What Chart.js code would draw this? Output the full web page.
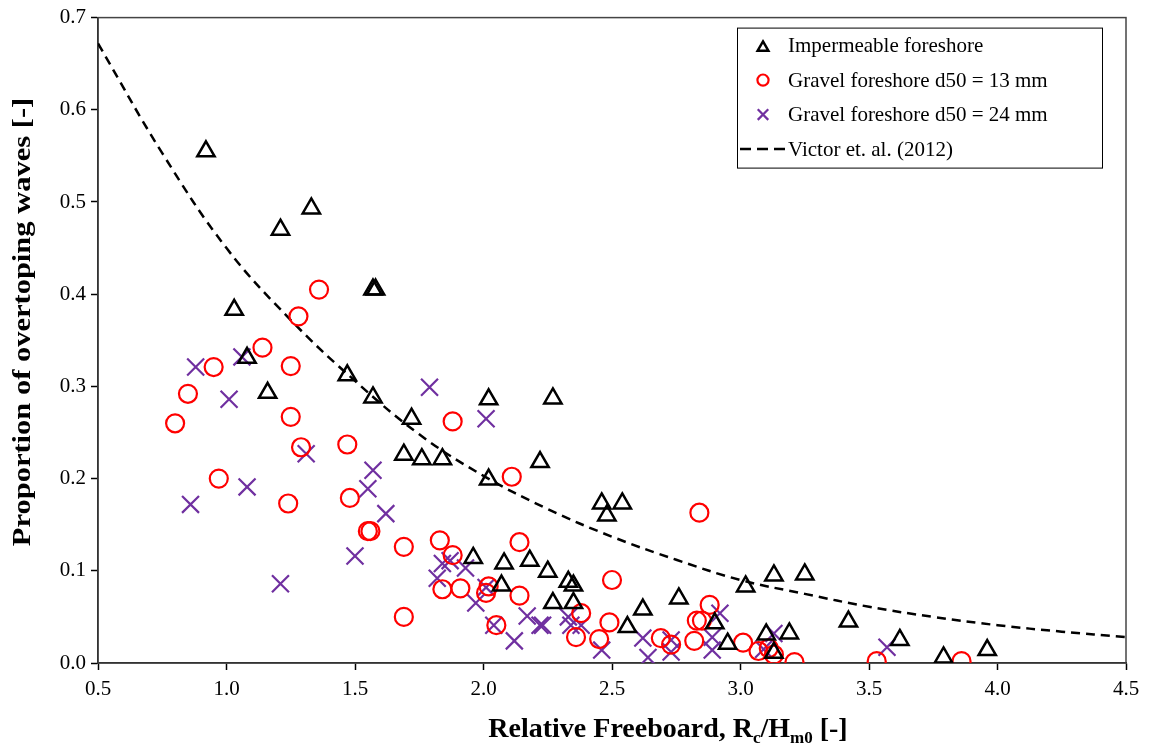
<!DOCTYPE html>
<html>
<head>
<meta charset="utf-8">
<script src="https://cdn.jsdelivr.net/npm/chart.js@4/dist/chart.umd.min.js"></script>
<style>
  html, body { margin: 0; padding: 0; background: #fff; }
  #wrap { width: 1149px; height: 748px; }
</style>
</head>
<body>
<div id="wrap"><canvas id="c" width="1149" height="748"></canvas></div>
<script>
// impermeable foreshore (triangles)
const impX = [0.92, 1.21, 1.33, 1.03, 1.08, 1.16, 1.57, 1.58, 1.47, 1.57, 1.72, 1.69, 1.76, 1.84, 2.02, 2.27, 2.02, 2.22,
  2.46, 2.54, 2.48, 1.96, 2.08, 2.18, 2.25, 2.33, 2.35, 2.07, 2.27, 2.35, 2.62, 2.56, 2.76, 3.02, 3.13, 3.25,
  2.90, 2.95, 3.10, 3.19, 3.13, 3.42, 3.62, 3.79, 3.96];
const impY = [0.555, 0.470, 0.493, 0.383, 0.331, 0.293, 0.405, 0.405, 0.312, 0.288, 0.265, 0.226, 0.221, 0.221, 0.286, 0.287, 0.199, 0.218,
  0.173, 0.173, 0.160, 0.114, 0.108, 0.111, 0.099, 0.088, 0.084, 0.084, 0.065, 0.065, 0.058, 0.039, 0.070, 0.083, 0.095, 0.096,
  0.043, 0.021, 0.031, 0.032, 0.011, 0.045, 0.025, 0.006, 0.014];

// gravel foreshore d50 = 13 mm (circles)
const g13X = [0.80, 0.85, 0.97, 0.95, 1.14, 1.28, 1.36, 1.25, 1.25, 1.29, 1.24, 1.47, 1.48, 1.55, 1.56, 1.69, 1.69,
  1.83, 1.88, 1.84, 1.91, 2.01, 2.02, 2.05, 2.14, 2.14, 2.11, 1.88, 2.50, 2.49, 2.38, 2.36, 2.45,
  2.84, 2.88, 2.83, 2.85, 2.69, 2.73, 2.82, 3.01, 3.07, 3.11, 3.13, 3.21, 3.53, 3.86];
const g13Y = [0.260, 0.292, 0.200, 0.321, 0.342, 0.376, 0.405, 0.322, 0.267, 0.234, 0.173, 0.237, 0.179, 0.143, 0.143, 0.126, 0.050,
  0.133, 0.117, 0.080, 0.081, 0.076, 0.083, 0.041, 0.131, 0.073, 0.202, 0.262, 0.090, 0.044, 0.054, 0.028, 0.026,
  0.163, 0.063, 0.046, 0.046, 0.027, 0.020, 0.024, 0.022, 0.013, 0.016, 0.009, 0.001, 0.002, 0.002];

// gravel foreshore d50 = 24 mm (crosses)
const g24X = [0.86, 0.88, 1.01, 1.08, 1.06, 1.21, 1.31, 1.50, 1.55, 1.57, 1.62, 1.79, 2.01,
  1.84, 1.87, 1.93, 1.82, 1.97, 2.01, 2.04, 2.12, 2.17, 2.22, 2.23, 2.33, 2.34, 2.38, 2.46,
  2.62, 2.64, 2.73, 2.73, 2.89, 2.89, 2.92, 3.09, 3.13, 3.57];
const g24Y = [0.172, 0.321, 0.286, 0.191, 0.332, 0.086, 0.227, 0.116, 0.189, 0.209, 0.162, 0.299, 0.265,
  0.108, 0.111, 0.103, 0.092, 0.065, 0.082, 0.041, 0.024, 0.051, 0.041, 0.041, 0.050, 0.041, 0.041, 0.014,
  0.027, 0.006, 0.025, 0.012, 0.028, 0.014, 0.054, 0.015, 0.032, 0.017];

// Victor et al. (2012)
const vicX = [0.5, 0.75, 1.0, 1.25, 1.5, 1.75, 2.0, 2.25, 2.5, 2.75, 3.0, 3.25, 3.5, 3.75, 4.0, 4.25, 4.5];
const vicY = [0.672, 0.553, 0.450, 0.372, 0.306, 0.248, 0.203, 0.167, 0.137, 0.112, 0.090, 0.075, 0.061, 0.050, 0.041, 0.034, 0.028];

const xTicks = [0.5, 1.0, 1.5, 2.0, 2.5, 3.0, 3.5, 4.0, 4.5];
const yTicks = [0.0, 0.1, 0.2, 0.3, 0.4, 0.5, 0.6, 0.7];
const yLabel = 'Proportion of overtoping waves [-]';

const pts = (xs, ys) => xs.map((x, i) => ({ x: x, y: ys[i] }));
const serif = '"Liberation Serif", "Times New Roman", serif';
const purple = '#7030a0';

// box round the plot area
const frame = {
  id: 'frame',
  beforeDatasetsDraw(chart) {
    const a = chart.chartArea, c = chart.ctx;
    c.save();
    c.strokeStyle = '#444';
    c.lineWidth = 1.5;
    c.strokeRect(a.left, a.top, a.right - a.left, a.bottom - a.top);
    c.restore();
  }
};

// axis titles (x has subscripts, y is a bit stretched like the original)
const titles = {
  id: 'titles',
  afterDraw(chart) {
    const c = chart.ctx;
    const parts = [
      ['Relative Freeboard, R', 28, 0],
      ['c', 17, 6],
      ['/H', 28, 0],
      ['m0', 17, 6],
      [' [-]', 28, 0]
    ];
    c.save();
    c.fillStyle = '#000';
    c.textBaseline = 'alphabetic';
    let w = 0;
    parts.forEach(p => { c.font = 'bold ' + p[1] + 'px ' + serif; w += c.measureText(p[0]).width; });
    let x = 668 - w / 2;
    const base = 737;
    parts.forEach(p => {
      c.font = 'bold ' + p[1] + 'px ' + serif;
      c.fillText(p[0], x, base + p[2]);
      x += c.measureText(p[0]).width;
    });

    c.translate(24, 322);
    c.rotate(-Math.PI / 2);
    c.scale(1.22, 1);
    c.font = 'bold 25px ' + serif;
    c.textAlign = 'center';
    c.textBaseline = 'middle';
    c.fillText(yLabel, 0, 0);
    c.restore();
  }
};

// legend box inside the plot
const boxLegend = {
  id: 'boxLegend',
  afterDraw(chart) {
    const c = chart.ctx, a = chart.chartArea;
    const left = a.right - 389, top = a.top + 10, w = 365, h = 140;
    c.save();
    c.fillStyle = '#fff';
    c.fillRect(left, top, w, h);
    c.strokeStyle = '#000';
    c.lineWidth = 1;
    c.strokeRect(left + 0.5, top + 0.5, w, h);
    c.font = '21px ' + serif;
    c.textBaseline = 'middle';
    chart.data.datasets.forEach((ds, i) => {
      const y = top + 18 + i * 34.5;
      const mx = left + 26;
      c.fillStyle = '#000';
      c.fillText(ds.label, left + 51, y + 1);
      if (ds.showLine) {
        c.strokeStyle = ds.borderColor;
        c.lineWidth = 2.5;
        c.setLineDash([11, 6]);
        c.beginPath();
        c.moveTo(left + 3, y);
        c.lineTo(left + 48, y);
        c.stroke();
        c.setLineDash([]);
      } else {
        c.fillStyle = 'rgba(0,0,0,0)';
        c.strokeStyle = ds.borderColor;
        c.lineWidth = ds.borderWidth;
        Chart.helpers.drawPoint(c, {
          pointStyle: ds.pointStyle,
          radius: ds.pointRadius * 0.62,
          borderWidth: ds.borderWidth
        }, mx, y + (ds.pointStyle === 'triangle' ? 2 : 0));
      }
    });
    c.restore();
  }
};

new Chart(document.getElementById('c'), {
  type: 'scatter',
  data: {
    datasets: [
      {
        label: 'Impermeable foreshore',
        data: pts(impX, impY),
        pointStyle: 'triangle',
        pointRadius: 10,
        borderColor: '#000',
        backgroundColor: 'rgba(0,0,0,0)',
        borderWidth: 2.5
      },
      {
        label: 'Gravel foreshore d50 = 13 mm',
        data: pts(g13X, g13Y),
        pointStyle: 'circle',
        pointRadius: 9,
        borderColor: '#ff0000',
        backgroundColor: 'rgba(0,0,0,0)',
        borderWidth: 2.2
      },
      {
        label: 'Gravel foreshore d50 = 24 mm',
        data: pts(g24X, g24Y),
        pointStyle: 'crossRot',
        pointRadius: 12,
        borderColor: purple,
        backgroundColor: purple,
        borderWidth: 2.2
      },
      {
        label: 'Victor et. al. (2012)',
        data: pts(vicX, vicY),
        showLine: true,
        pointRadius: 0,
        borderColor: '#000',
        borderWidth: 2.5,
        borderDash: [9, 6],
        tension: 0.4,
        fill: false
      }
    ]
  },
  options: {
    responsive: false,
    animation: false,
    events: [],
    layout: { padding: { left: 0, top: 15, right: 23, bottom: 0 } },
    plugins: {
      legend: { display: false },
      tooltip: { enabled: false }
    },
    scales: {
      x: {
        type: 'linear',
        min: 0.5,
        max: 4.5,
        afterBuildTicks: s => { s.ticks = xTicks.map(v => ({ value: v })); },
        afterFit: s => { s.height = 85; },
        ticks: {
          color: '#000',
          font: { family: serif, size: 21 },
          padding: 7,
          maxRotation: 0,
          callback: v => Number(v).toFixed(1)
        },
        grid: { drawOnChartArea: false, drawTicks: true, tickLength: 7, tickColor: '#000', tickWidth: 1.5 },
        border: { display: true, color: '#000', width: 1.5 },
        title: { display: false }
      },
      y: {
        type: 'linear',
        min: 0,
        max: 0.7,
        afterBuildTicks: s => { s.ticks = yTicks.map(v => ({ value: v })); },
        afterFit: s => { s.width = 98; },
        ticks: {
          color: '#000',
          font: { family: serif, size: 21 },
          padding: 5,
          callback: v => Number(v).toFixed(1)
        },
        grid: { drawOnChartArea: false, drawTicks: true, tickLength: 7, tickColor: '#000', tickWidth: 1.5 },
        border: { display: true, color: '#000', width: 1.5 },
        title: { display: false }
      }
    }
  },
  plugins: [frame, titles, boxLegend]
});
</script>
</body>
</html>
